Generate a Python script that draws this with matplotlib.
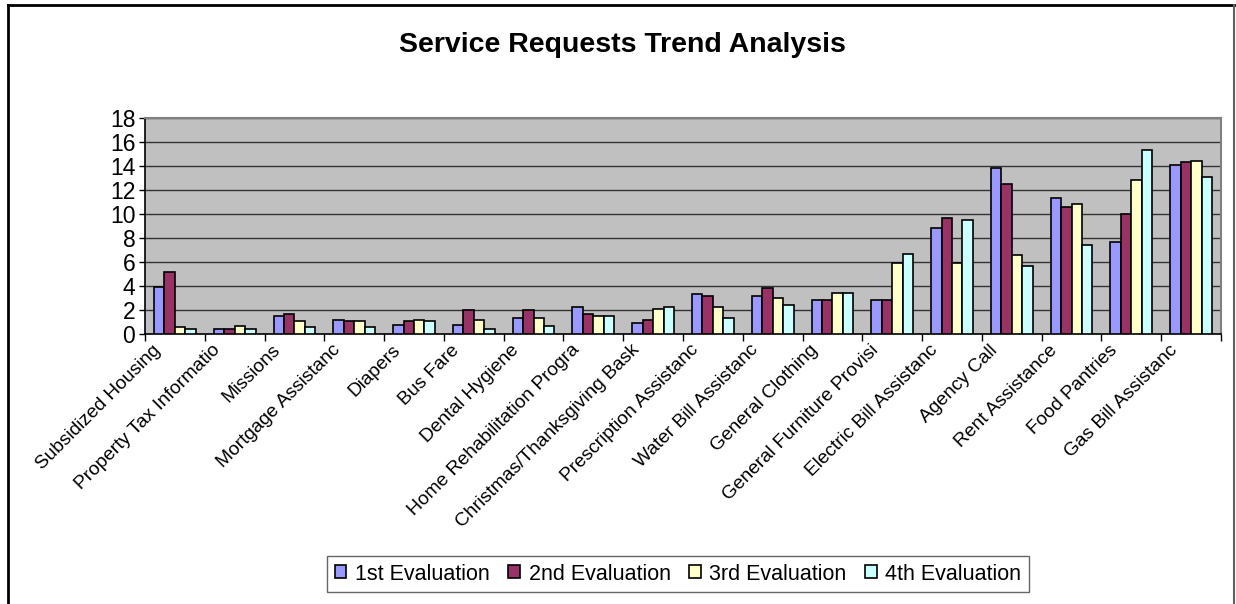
import matplotlib.pyplot as plt
import numpy as np
from matplotlib.lines import Line2D

plt.rcParams['font.family'] = ['Liberation Sans', 'DejaVu Sans']

categories = ['Subsidized Housing', 'Property Tax Informatio', 'Missions',
              'Mortgage Assistanc', 'Diapers', 'Bus Fare', 'Dental Hygiene',
              'Home Rehabilitation Progra', 'Christmas/Thanksgiving Bask',
              'Prescription Assistanc', 'Water Bill Assistanc', 'General Clothing',
              'General Furniture Provisi', 'Electric Bill Assistanc', 'Agency Call',
              'Rent Assistance', 'Food Pantries', 'Gas Bill Assistanc']

eval_1 = [3.9, 0.45, 1.5, 1.2, 0.75, 0.75, 1.35, 2.25, 0.9, 3.3, 3.15, 2.85, 2.85,
          8.8, 13.8, 11.3, 7.7, 14.1]
eval_2 = [5.2, 0.45, 1.65, 1.05, 1.05, 2.0, 2.0, 1.65, 1.2, 3.15, 3.85, 2.85, 2.85,
          9.7, 12.5, 10.55, 10.0, 14.3]
eval_3 = [0.6, 0.7, 1.05, 1.05, 1.2, 1.2, 1.35, 1.5, 2.1, 2.25, 3.0, 3.45, 5.95,
          5.95, 6.55, 10.85, 12.8, 14.4]
eval_4 = [0.45, 0.45, 0.6, 0.6, 1.05, 0.45, 0.7, 1.5, 2.25, 1.35, 2.4, 3.45, 6.7,
          9.5, 5.65, 7.45, 15.3, 13.1]

series_names = ['1st Evaluation', '2nd Evaluation', '3rd Evaluation', '4th Evaluation']
series_colors = ['#9999FF', '#993366', '#FFFFCC', '#CCFFFF']

fig = plt.figure(figsize=(12.36, 6.04), dpi=100)
ax = fig.add_axes([145 / 1236, 1 - 334 / 604, (1221 - 145) / 1236, (334 - 118) / 604])

x = np.arange(len(categories))
w = 0.175
all_series = [eval_1, eval_2, eval_3, eval_4]
for i, (vals, name, col) in enumerate(zip(all_series, series_names, series_colors)):
    ax.bar(x + (i - 1.5) * w, vals, width=w, color=col, edgecolor='black',
           linewidth=1.2, label=name, zorder=3)

ax.set_facecolor('#C0C0C0')
ax.set_xlim(-0.5, len(categories) - 0.5)
ax.set_ylim(0, 18)
ax.set_yticks(range(0, 19, 2))
ax.tick_params(axis='y', labelsize=16.5, direction='out', length=4, width=1, pad=3)
ax.yaxis.grid(True, color='#333333', linewidth=1, zorder=0)

# ticks sit on the category borders, labels are drawn separately
ax.set_xticks(np.arange(-0.5, len(categories), 1))
ax.set_xticklabels([])
ax.tick_params(axis='x', direction='out', length=5, width=1)
xtr = ax.get_xaxis_transform()
for i, lab in enumerate(categories):
    ax.text(i - 0.38, -0.035, lab, transform=xtr, rotation=45, ha='right', va='top',
            rotation_mode='anchor', fontsize=13.8, clip_on=False)

for s in ['top', 'right']:
    ax.spines[s].set_color('#808080')
    ax.spines[s].set_linewidth(1.5)
for s in ['left', 'bottom']:
    ax.spines[s].set_color('black')
    ax.spines[s].set_linewidth(1.2)

fig.text(622 / 1236, 1 - 45 / 604, 'Service Requests Trend Analysis', ha='center',
         va='center', fontsize=20.5, fontweight='bold')

leg = fig.legend(loc='center', bbox_to_anchor=(678 / 1236, 1 - 574 / 604), ncol=4,
                 fontsize=15.5, frameon=True, fancybox=False, handlelength=0.55,
                 handleheight=0.55, handletextpad=0.4, columnspacing=0.85,
                 borderpad=0.35)
leg.get_frame().set_edgecolor('#404040')
leg.get_frame().set_linewidth(1)

fig.add_artist(Line2D([7.5 / 1236, 7.5 / 1236], [0, 1 - 4.5 / 604], color='black',
                      linewidth=2, transform=fig.transFigure))
fig.add_artist(Line2D([7.5 / 1236, 1234 / 1236], [1 - 4.5 / 604, 1 - 4.5 / 604],
                      color='black', linewidth=2, transform=fig.transFigure))
fig.add_artist(Line2D([1234 / 1236, 1234 / 1236], [0, 1 - 4.5 / 604], color='#606060',
                      linewidth=1.5, transform=fig.transFigure))

fig.savefig('out.png', dpi=100)
